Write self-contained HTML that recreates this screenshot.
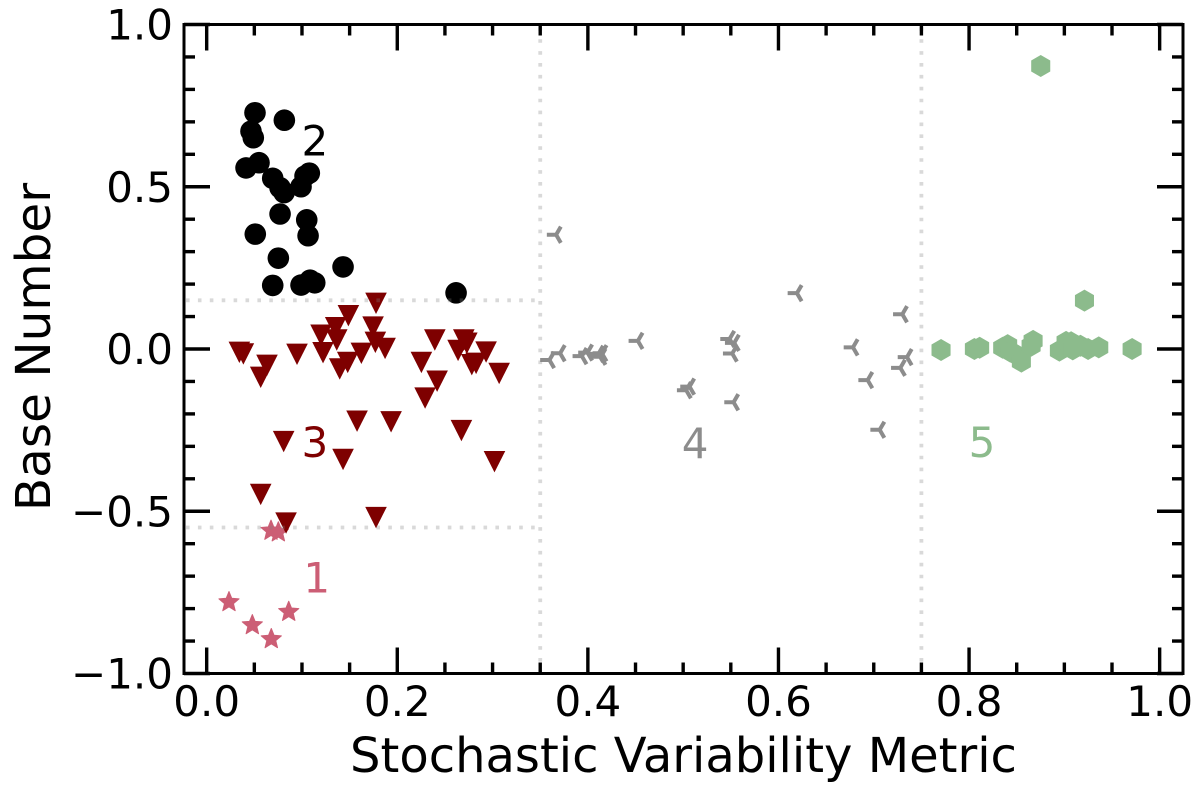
<!DOCTYPE html>
<html lang="en">
<head>
<meta charset="utf-8">
<title>Base Number vs Stochastic Variability Metric</title>
<style>
html,body{margin:0;padding:0;background:#fff;width:1200px;height:788px;overflow:hidden}
svg{display:block}
text{font-family:"DejaVu Sans",sans-serif}
</style>
</head>
<body>
<svg id="chart" width="1200" height="788" viewBox="0 0 1200 788" xmlns="http://www.w3.org/2000/svg"></svg>
<script>
const xTickLabels = ["0.0","0.2","0.4","0.6","0.8","1.0"];
const xTickValues = [0,0.2,0.4,0.6,0.8,1.0];
const yTickLabels = ["\u22121.0","\u22120.5","0.0","0.5","1.0"];
const yTickValues = [-1,-0.5,0,0.5,1];
const xLimits = [-0.0238,1.0245];
const yLimits = [-1,1];
const xThresholds = [0.35,0.75];
const yThresholds = [0.15,-0.55];

const class1X = [0.0675,0.0752,0.0234,0.0479,0.0678,0.0861];
const class1Y = [-0.560,-0.565,-0.780,-0.851,-0.894,-0.810];

const class2X = [0.0507,0.0815,0.0465,0.0489,0.0549,0.0413,0.0693,0.1077,0.1032,0.099,0.077,0.0812,0.077,0.105,0.1064,0.051,0.0752,0.1431,0.0693,0.099,0.1085,0.1134,0.2617];
const class2Y = [0.728,0.705,0.671,0.651,0.574,0.558,0.526,0.542,0.533,0.500,0.497,0.482,0.416,0.398,0.349,0.354,0.280,0.253,0.196,0.197,0.212,0.204,0.173];

const class3X = [0.1777,0.1487,0.1354,0.12,0.1746,0.1365,0.177,0.1221,0.1872,0.1623,0.0343,0.0385,0.0633,0.0567,0.0948,0.1396,0.148,0.2394,0.2698,0.273,0.2638,0.2932,0.2253,0.2782,0.2827,0.2418,0.3069,0.2292,0.1578,0.1935,0.2673,0.0808,0.1431,0.302,0.0567,0.0833,0.1777];
const class3Y = [0.141,0.103,0.066,0.043,0.068,0.028,0.021,-0.011,0.002,-0.013,-0.010,-0.015,-0.050,-0.087,-0.016,-0.061,-0.041,0.028,0.028,0.018,-0.004,-0.009,-0.041,-0.048,-0.044,-0.099,-0.075,-0.151,-0.222,-0.224,-0.251,-0.285,-0.340,-0.347,-0.448,-0.536,-0.519];

const class4X = [0.3667,0.3597,0.3709,0.3937,0.3996,0.4111,0.4136,0.4147,0.4525,0.5032,0.5067,0.5487,0.5536,0.5515,0.5529,0.6194,0.6782,0.6936,0.7062,0.73,0.7349,0.7279];
const class4Y = [0.352,-0.034,-0.013,-0.022,-0.011,-0.015,-0.024,-0.013,0.025,-0.127,-0.116,0.031,0.019,-0.014,-0.164,0.172,0.005,-0.096,-0.249,0.107,-0.025,-0.058];

const class5X = [0.7706,0.8056,0.8111,0.8353,0.8405,0.8433,0.8497,0.8549,0.8672,0.8651,0.8948,0.9018,0.9071,0.9088,0.9169,0.9249,0.9361,0.9711,0.9211,0.8752];
const class5Y = [-0.003,0,0.004,0.004,0.012,-0.008,-0.018,-0.039,0.025,0.01,-0.005,0.022,0.021,-0.001,0.01,0,0.005,0,0.149,0.872];

const classLabels = ["1","2","3","4","5"];
const classLabelX = [0.1015,0.0995,0.0995,0.4985,0.7995];
const classLabelY = [-0.751,0.596,-0.333,-0.336,-0.333];

const NS = "http://www.w3.org/2000/svg";
const svg = document.getElementById("chart");
const plotL = 184, plotR = 1183, plotT = 24.5, plotB = 673.5;

function sx(v){ return plotL + (v - xLimits[0]) / (xLimits[1] - xLimits[0]) * (plotR - plotL); }
function sy(v){ return plotB - (v - yLimits[0]) / (yLimits[1] - yLimits[0]) * (plotB - plotT); }

function make(tag, attrs, parent){
  const el = document.createElementNS(NS, tag);
  for (const k in attrs) el.setAttribute(k, attrs[k]);
  (parent || svg).appendChild(el);
  return el;
}
function group(){
  return make("g", {});
}

/* class 1: stars */
const starColor = "#cc5e75";
const g1 = group();


class1X.forEach((v, i) => {
  const cx = sx(v), cy = sy(class1Y[i]);
  const pts = [];
  for (let k = 0; k < 10; k++) {
    const r = k % 2 ? 4.7 : 10.6;
    const a = -Math.PI / 2 + k * Math.PI / 5;
    pts.push((cx + r * Math.cos(a)).toFixed(2) + "," + (cy + r * Math.sin(a)).toFixed(2));
  }
  const el = make("polygon", {points: pts.join(" "), fill: starColor, stroke: starColor, "stroke-width": 1, "stroke-linejoin": "round"}, g1);
  
  
});

/* class 2: circles */
const g2 = group();


class2X.forEach((v, i) => {
  const el = make("circle", {cx: sx(v), cy: sy(class2Y[i]), r: 10.8, fill: "#000"}, g2);
  
  
});

/* class 3: down triangles */
const g3 = group();


class3X.forEach((v, i) => {
  const cx = sx(v), cy = sy(class3Y[i]);
  const pts = [[cx - 10.8, cy - 10.6], [cx + 10.8, cy - 10.6], [cx, cy + 10.8]]
    .map(p => p[0].toFixed(2) + "," + p[1].toFixed(2)).join(" ");
  const el = make("polygon", {points: pts, fill: "#7e0000"}, g3);
  
  
});

/* class 4: tri-left markers */
const g4 = group();


class4X.forEach((v, i) => {
  const cx = sx(v), cy = sy(class4Y[i]);
  const d = "M" + (cx - 9.3) + " " + cy + "L" + cx + " " + cy +
            "L" + (cx + 4.7) + " " + (cy - 8.1) + "M" + cx + " " + cy +
            "L" + (cx + 4.7) + " " + (cy + 8.1);
  const el = make("path", {d: d, fill: "none", stroke: "#8c8c8c", "stroke-width": 4}, g4);
  
  
});

/* class 5: hexagons */
const g5 = group();


class5X.forEach((v, i) => {
  const cx = sx(v), cy = sy(class5Y[i]);
  const pts = [];
  for (let k = 0; k < 6; k++) {
    const a = -Math.PI / 2 + k * Math.PI / 3;
    pts.push((cx + 11 * Math.cos(a)).toFixed(2) + "," + (cy + 11 * Math.sin(a)).toFixed(2));
  }
  const el = make("polygon", {points: pts.join(" "), fill: "#8cbb8c"}, g5);
  
  
});

/* threshold lines */
const dotStyle = {stroke: "rgba(128,128,128,0.3)", "stroke-width": 3.8, "stroke-dasharray": "3.6 8.3", fill: "none"};
xThresholds.forEach(v => {
  const el = make("line", Object.assign({x1: sx(v), x2: sx(v), y1: plotB, y2: plotT}, dotStyle));
  
  
});
yThresholds.forEach(v => {
  const el = make("line", Object.assign({x1: plotL + 2, x2: sx(xThresholds[0]), y1: sy(v), y2: sy(v)}, dotStyle));
  
  
});

/* class labels */
const labelColors = [starColor, "#000", "#7e0000", "#8c8c8c", "#8cbb8c"];
classLabels.forEach((t, i) => {
  const el = make("text", {x: sx(classLabelX[i]), y: sy(classLabelY[i]), "font-size": 42, fill: labelColors[i]});
  el.textContent = t;
  
  
});

/* ticks */
const tickW = 3.4, majorLen = 26, minorLen = 11;
function tick(x1, y1, x2, y2){
  const el = make("line", {x1: x1, y1: y1, x2: x2, y2: y2, stroke: "#000", "stroke-width": tickW});
  
  
}
for (let k = 0; k <= 20; k++) {
  const v = k * 0.05, len = k % 4 === 0 ? majorLen : minorLen;
  tick(sx(v), plotB, sx(v), plotB - len);
  tick(sx(v), plotT, sx(v), plotT + len);
}
for (let k = 0; k <= 20; k++) {
  const v = -1 + k * 0.1, len = k % 5 === 0 ? majorLen : minorLen;
  tick(plotL, sy(v), plotL + len, sy(v));
  tick(plotR, sy(v), plotR - len, sy(v));
}

/* frame */
const frame = make("rect", {x: plotL, y: plotT, width: plotR - plotL, height: plotB - plotT, fill: "none", stroke: "#000", "stroke-width": 3});



/* tick labels */
xTickValues.forEach((v, i) => {
  const el = make("text", {x: sx(v), y: 716, "font-size": 42, "text-anchor": "middle", fill: "#000"});
  el.textContent = xTickLabels[i];
  
  
});
yTickValues.forEach((v, i) => {
  const el = make("text", {x: 173, y: sy(v) + 15, "font-size": 42, "text-anchor": "end", fill: "#000"});
  el.textContent = yTickLabels[i];
  
  
});

/* axis titles */
const xTitle = make("text", {x: 683.5, y: 772, "font-size": 48, "text-anchor": "middle", fill: "#000"});
xTitle.textContent = "Stochastic Variability Metric";



const yTitle = make("text", {x: 0, y: 0, "font-size": 48.5, "text-anchor": "middle", fill: "#000", transform: "translate(50,347) rotate(-90)"});
yTitle.textContent = "Base Number";


</script>
</body>
</html>
